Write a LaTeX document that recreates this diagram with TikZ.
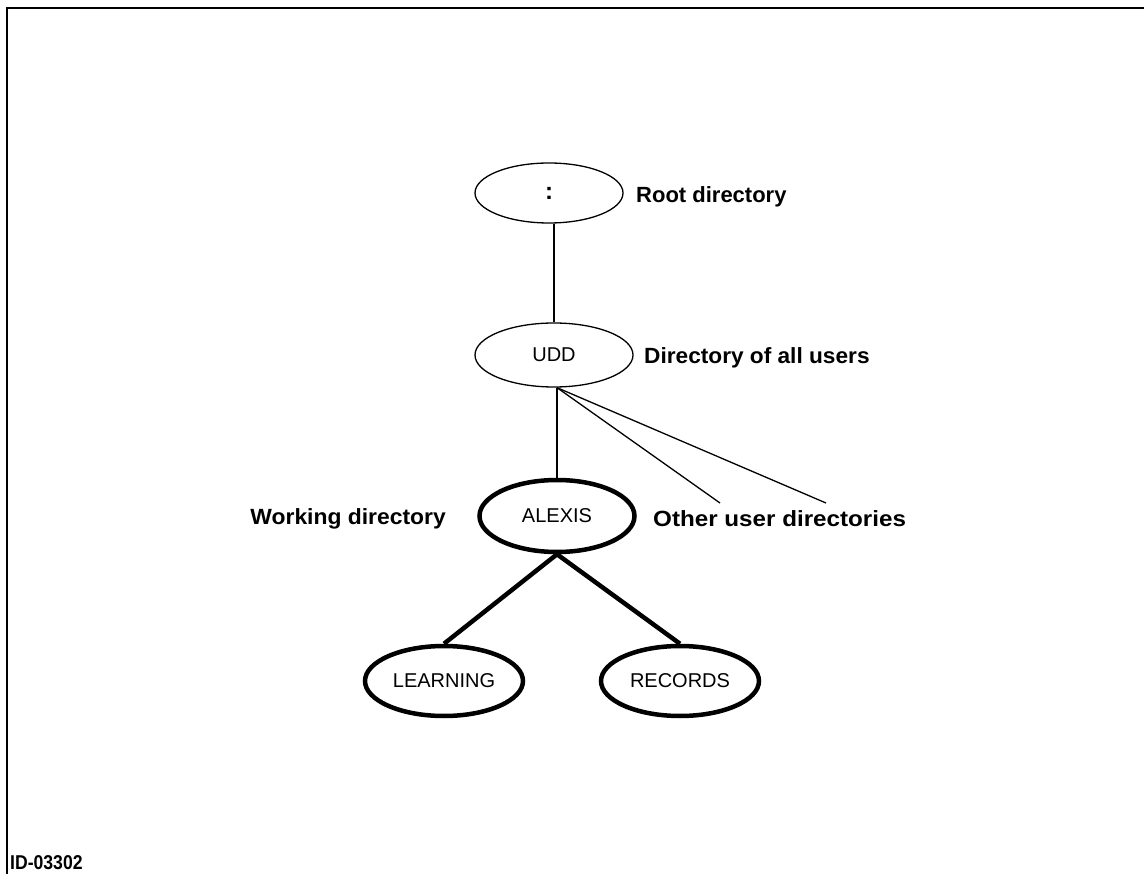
\documentclass[tikz,border=0pt]{standalone}
\usepackage{fontspec}
\usepackage{graphicx}
\setmainfont{Liberation Sans}
\usetikzlibrary{shapes.geometric}
\begin{document}
\begin{tikzpicture}[x=1pt,y=-1pt,
  dirthin/.style={ellipse,draw,line width=1.3pt,inner sep=0pt,font=\fontsize{20}{24}\selectfont},
  dirthick/.style={ellipse,draw,line width=4.5pt,inner sep=0pt,font=\fontsize{20}{24}\selectfont},
  note/.style={font=\bfseries\fontsize{22}{26}\selectfont,inner sep=0pt},
  thinlink/.style={line width=1.3pt},
  thicklink/.style={line width=4.5pt}]
\useasboundingbox (0,0) rectangle (1144,874);
% frame: top and left rules
\coordinate (ftr) at (1144,8);
\coordinate (ftl) at (7,8);
\coordinate (fbl) at (7,874);
\draw[line width=2pt] (ftr) -- (ftl) -- (fbl);

% directory nodes
\node[dirthin,minimum width=148pt,minimum height=60pt] (root) at (549,193) {\bfseries\fontsize{24}{26}\selectfont :};
\node[dirthin,minimum width=158pt,minimum height=64pt] (udd) at (554,355) {UDD};
\node[dirthick,minimum width=155pt,minimum height=72pt] (alexis) at (557,516) {ALEXIS};
\node[dirthick,minimum width=158pt,minimum height=70pt] (learning) at (444,681) {LEARNING};
\node[dirthick,minimum width=158pt,minimum height=70pt] (records) at (680,681) {RECORDS};

% labels
\node[note,anchor=west] (rootlbl) at (636,197) {Root directory};
\node[note,anchor=west] (uddlbl) at (644,358) {\scalebox{1.03}[1]{Directory of all users}};
\node[note,anchor=east] (worklbl) at (446,519) {\scalebox{1.04}[1]{Working directory}};
\node[note,anchor=west] (otherlbl) at (653,519) {\scalebox{1.10}[1]{Other user directories}};
\node[font=\bfseries\fontsize{20}{22}\selectfont,anchor=west,inner sep=0pt] (figid) at (10,863) {\scalebox{0.88}[1]{ID-03302}};

% links
\coordinate (uddfoot) at (alexis.north |- udd.south);
\coordinate (other1) at (720,503);
\coordinate (other2) at (826,503);
\draw[thinlink] (udd.north) -- (udd.north |- root.south);
\draw[thinlink] (uddfoot) -- (alexis.north);
\draw[thinlink] (uddfoot) -- (other1);
\draw[thinlink] (uddfoot) -- (other2);
\draw[thicklink] (alexis.south) -- (learning.north);
\draw[thicklink] (alexis.south) -- (records.north);
\end{tikzpicture}
\end{document}
